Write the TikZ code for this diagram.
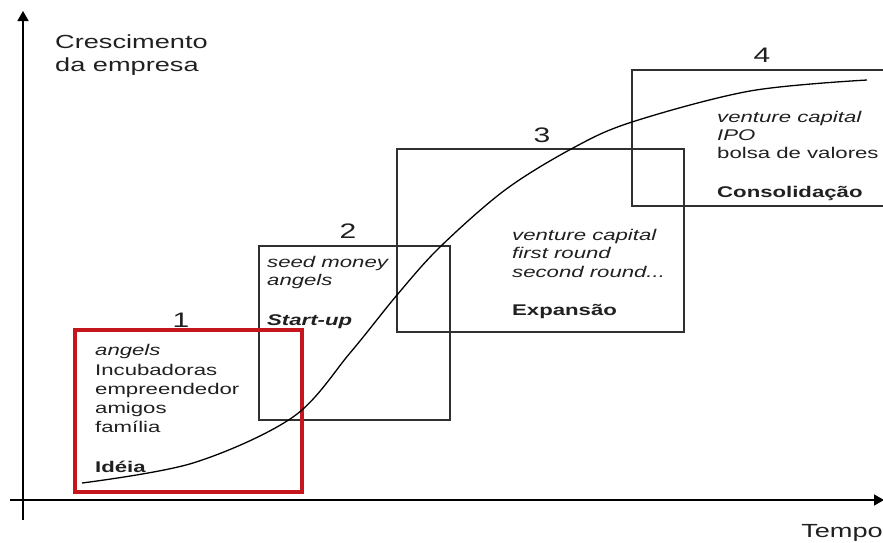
\documentclass[tikz,border=0pt]{standalone}
\usepackage{fontspec}
\usetikzlibrary{arrows.meta}
\newfontfamily\wf[FakeStretch=1.43]{Liberation Sans}
\definecolor{boxc}{HTML}{303030}
\definecolor{txtc}{HTML}{202020}
\definecolor{redc}{HTML}{C4161C}
\tikzset{
  box/.style={draw=boxc, line width=1.3pt, anchor=north west, inner sep=0pt, outer sep=0pt},
  redbox/.style={draw=redc, line width=4pt, anchor=north west, inner sep=0pt, outer sep=0pt},
  txt/.style={anchor=base west, inner sep=0pt, text=txtc, font=\wf\fontsize{15.5}{18}\selectfont},
  num/.style={anchor=base, inner sep=0pt, text=txtc, font=\wf\fontsize{21}{24}\selectfont},
  axlab/.style={anchor=base west, inner sep=0pt, text=txtc, font=\wf\fontsize{19}{22}\selectfont},
  axis/.style={draw=black, line width=1.4pt, -{Triangle[length=10pt,width=11pt]}},
}
\begin{document}
\begin{tikzpicture}[x=1pt,y=-1pt]
\useasboundingbox (0,0) rectangle (883,542);
% axes
\coordinate (yb) at (23,520);
\coordinate (yt) at (23,11);
\coordinate (xl) at (10,500);
\coordinate (xr) at (884,500);
\draw[axis] (yb) -- (yt);
\draw[axis] (xl) -- (xr);
\node[axlab] (yl1) at (55,48) {Crescimento};
\node[axlab] (yl2) at (55,71) {da empresa};
\node[axlab, anchor=base east] (xlab) at (883,537) {Tempo};
% boxes
\node[box, minimum width=191pt, minimum height=174pt] (b2) at (259,246) {};
\node[box, minimum width=287pt, minimum height=183pt] (b3) at (397,149) {};
\node[box, minimum width=268pt, minimum height=136pt] (b4) at (632,70) {};
\node[redbox, minimum width=227pt, minimum height=162pt] (b1) at (75,330) {};
% numbers
\node[num] (n1) at (181,327) {1};
\node[num] (n2) at (348,238) {2};
\node[num] (n3) at (542,142) {3};
\node[num] (n4) at (762,62) {4};
% box 1 text
\node[txt] (t11) at (95,355) {\itshape angels};
\node[txt] (t12) at (95,375) {Incubadoras};
\node[txt] (t13) at (95,394) {empreendedor};
\node[txt] (t14) at (95,413) {amigos};
\node[txt] (t15) at (95,432) {família};
\node[txt] (t16) at (95,472) {\bfseries Idéia};
% box 2 text
\node[txt] (t21) at (267,267) {\itshape seed money};
\node[txt] (t22) at (267,285) {\itshape angels};
\node[txt] (t23) at (267,325) {\bfseries\itshape Start-up};
% box 3 text
\node[txt] (t31) at (512,240) {\itshape venture capital};
\node[txt] (t32) at (512,258) {\itshape first round};
\node[txt] (t33) at (512,277) {\itshape second round...};
\node[txt] (t34) at (512,315) {\bfseries Expansão};
% box 4 text
\node[txt] (t41) at (717,122) {\itshape venture capital};
\node[txt] (t42) at (717,140) {\itshape IPO};
\node[txt] (t43) at (717,158) {bolsa de valores};
\node[txt] (t44) at (717,197) {\bfseries Consolidação};
% growth curve
\draw[line width=1.3pt, black] plot[smooth, tension=0.55] coordinates {
  (82,483) (193,463) (293,417) (350,353) (397,295) (440,247)
  (505,190) (573,148) (632,122) (750,91) (867,80)};
\end{tikzpicture}
\end{document}
